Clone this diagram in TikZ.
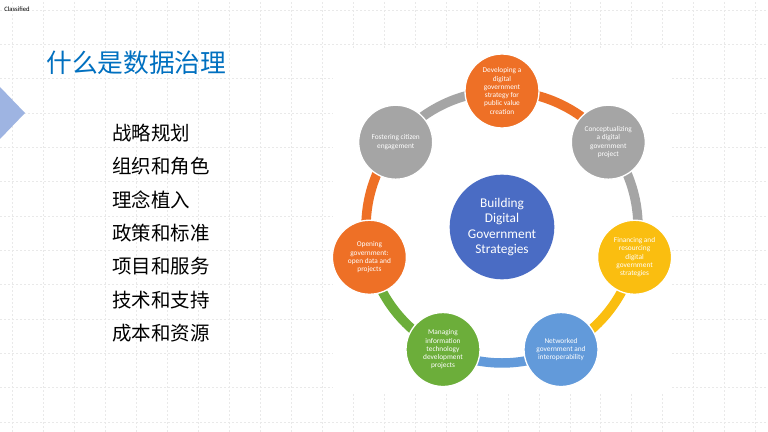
\documentclass[tikz,border=0pt]{standalone}
\usepackage{fontspec}
\setmainfont{Carlito}
\newfontfamily\cjkfont{Noto Sans CJK SC}
\usetikzlibrary{positioning, calc, backgrounds}

\definecolor{titleblue}{RGB}{0,112,192}
\definecolor{arrowblue}{RGB}{158,180,226}
\definecolor{gridgray}{RGB}{233,233,233}
\definecolor{coreblue}{RGB}{74,108,196}
\definecolor{petalorange}{RGB}{238,112,38}
\definecolor{petalgray}{RGB}{165,165,165}
\definecolor{petalyellow}{RGB}{250,190,16}
\definecolor{petalblue}{RGB}{98,154,218}
\definecolor{petalgreen}{RGB}{108,174,58}

\begin{document}
\begin{tikzpicture}[
  x=0.75pt, y=0.75pt,
  petal/.style    = {circle, draw=white, line width=1pt, minimum size=55.5pt, inner sep=0pt,
                     font=\fontsize{5.5}{6.2}\selectfont, text=white, align=center},
  core/.style     = {circle, fill=coreblue, minimum size=78.5pt, inner sep=0pt,
                     font=\fontsize{10}{11.6}\selectfont, text=white, align=center},
  ring/.style     = {line width=7.1pt},
  item/.style     = {anchor=west, inner sep=0pt, font=\cjkfont\fontsize{14.6}{16}\selectfont},
  gridline/.style = {gridgray, line width=0.4pt, dash pattern=on 1.5pt off 1.5pt}
]
\useasboundingbox (0,0) rectangle (768,432);

% -- slide grid ----------------------------------------------------------------
\begin{scope}[on background layer]
  \fill[white] (0,0) rectangle (768,432);
  \foreach \gx in {0,...,24} \draw[gridline] ({12.7+30.95*\gx},0) -- ++(0,432);
  \foreach \gy in {0,...,12} \draw[gridline] (0,{422-34.33*\gy}) -- ++(768,0);
  \fill[white] (333,40) rectangle (672,382);
\end{scope}

% -- header ----------------------------------------------------------------------
\node[anchor=west, inner sep=0pt, font=\fontsize{5}{6}\selectfont] (tag) at (4,423) {Classified};
\node[anchor=west, inner sep=0pt, text=titleblue, font=\cjkfont\fontsize{19.3}{22}\selectfont]
      (title) at (46,369.5) {什么是数据治理};
\fill[arrowblue] (0,345) -- (25,319) -- (0,293) -- cycle;

% -- list ------------------------------------------------------------------------
\node[item] (plan) at (112,299) {战略规划};
\node[item, below=25pt of plan.west,  anchor=west] (org)     {组织和角色};
\node[item, below=25pt of org.west,   anchor=west] (idea)    {理念植入};
\node[item, below=25pt of idea.west,  anchor=west] (policy)  {政策和标准};
\node[item, below=25pt of policy.west,anchor=west] (project) {项目和服务};
\node[item, below=25pt of project.west,anchor=west] (tech)   {技术和支持};
\node[item, below=25pt of tech.west,  anchor=west] (cost)    {成本和资源};

% -- wheel -----------------------------------------------------------------------
\node[core] (core) at (502,205) {Building\\Digital\\Government\\Strategies};

\node[petal, fill=petalorange] (develop) at ($(core)+(90:102pt)$)
      {Developing a\\digital\\government\\strategy for\\public value\\creation};
\node[petal, fill=petalgray]   (concept) at ($(core)+(38.571:102pt)$)
      {Conceptualizing\\a digital\\government\\project};
\node[petal, fill=petalyellow] (finance) at ($(core)+(-12.857:102pt)$)
      {Financing and\\resourcing\\digital\\government\\strategies};
\node[petal, fill=petalblue]   (network) at ($(core)+(-64.286:102pt)$)
      {Networked\\government and\\interoperability};
\node[petal, fill=petalgreen]  (manage)  at ($(core)+(-115.714:102pt)$)
      {Managing\\information\\technology\\development\\projects};
\node[petal, fill=petalorange] (open)    at ($(core)+(-167.143:102pt)$)
      {Opening\\government:\\open data and\\projects};
\node[petal, fill=petalgray]   (foster)  at ($(core)+(141.429:102pt)$)
      {Fostering citizen\\engagement};

% -- ring segments ---------------------------------------------------------------
\begin{scope}[on background layer]
  \draw[ring, petalorange] (develop.center) arc[start angle=90,       end angle=38.571,   radius=102pt];
  \draw[ring, petalgray]   (concept.center) arc[start angle=38.571,   end angle=-12.857,  radius=102pt];
  \draw[ring, petalyellow] (finance.center) arc[start angle=-12.857,  end angle=-64.286,  radius=102pt];
  \draw[ring, petalblue]   (network.center) arc[start angle=-64.286,  end angle=-115.714, radius=102pt];
  \draw[ring, petalgreen]  (manage.center)  arc[start angle=-115.714, end angle=-167.143, radius=102pt];
  \draw[ring, petalorange] (open.center)    arc[start angle=-167.143, end angle=-218.571, radius=102pt];
  \draw[ring, petalgray]   (foster.center)  arc[start angle=141.429,  end angle=90,       radius=102pt];
\end{scope}
\end{tikzpicture}
\end{document}
